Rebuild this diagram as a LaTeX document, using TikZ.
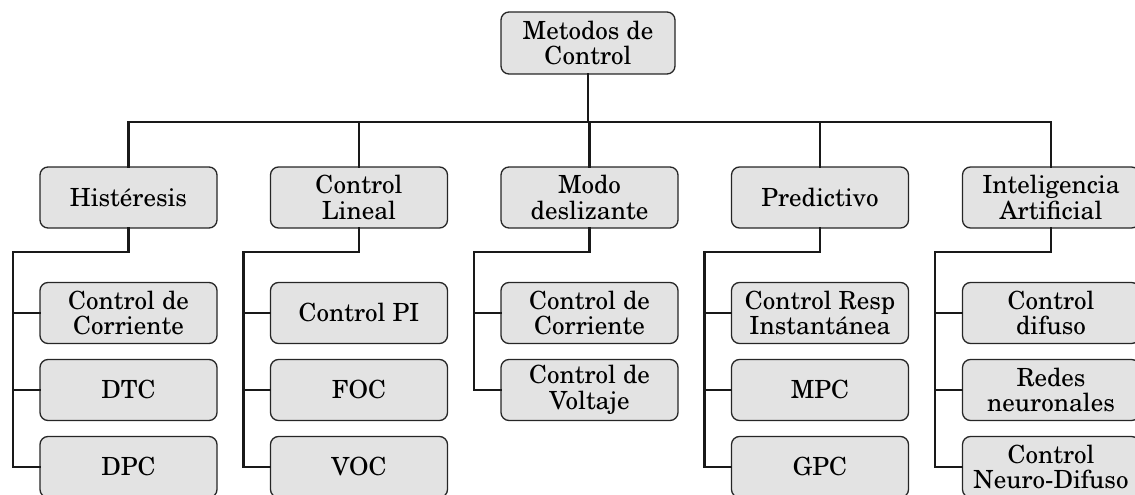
\documentclass[tikz,border=0pt]{standalone}
\usepackage[T1]{fontenc}
\usepackage{newcent}
\begin{document}
\begin{tikzpicture}[x=1pt,y=-1pt,
  box/.style={draw=black!85, line width=1.3pt, fill=black!11, rounded corners=8pt,
    minimum width=177pt, minimum height=61pt, inner sep=0pt, align=center,
    text=black, font=\fontsize{25}{25.5}\selectfont},
  conn/.style={draw=black!90, line width=2.9pt, line cap=rect}]
\useasboundingbox (0,0) rectangle (1135,495);
% root
\node[box, minimum width=174pt, minimum height=62pt] (root) at (588,43) {Metodos de\\Control};
% level 1
\node[box] (h) at (128.5,197.5) {Hist\'{e}resis};
\node[box] (l) at (359,197.5) {Control\\Lineal};
\node[box] (m) at (589.5,197.5) {Modo\\deslizante};
\node[box] (p) at (820,197.5) {Predictivo};
\node[box] (a) at (1051,197.5) {Inteligencia\\Artificial};
% children
\node[box] (h1) at (128.5,313) {Control de\\Corriente};
\node[box] (h2) at (128.5,390) {DTC};
\node[box] (h3) at (128.5,467) {DPC};
\node[box] (l1) at (359,313) {Control PI};
\node[box] (l2) at (359,390) {FOC};
\node[box] (l3) at (359,467) {VOC};
\node[box] (m1) at (589.5,313) {Control de\\Corriente};
\node[box] (m2) at (589.5,390) {Control de\\Voltaje};
\node[box] (p1) at (820,313) {Control Resp\\Instant\'{a}nea};
\node[box] (p2) at (820,390) {MPC};
\node[box] (p3) at (820,467) {GPC};
\node[box] (a1) at (1051,313) {Control\\difuso};
\node[box] (a2) at (1051,390) {Redes\\neuronales};
\node[box] (a3) at (1051,467) {Control\\Neuro-Difuso};
% bus
\coordinate (busL) at (128.5,122);
\coordinate (busR) at (1051,122);
\draw[conn] (busL) -- (busR);
\draw[conn] (root.south) -- (root.south |- busL);
\foreach \n in {h,l,m,p,a} \draw[conn] (\n.north) -- (\n.north |- busL);
% elbows
\coordinate (eh) at (13,252);
\coordinate (el) at (243.5,252);
\coordinate (em) at (474,252);
\coordinate (ep) at (704.5,252);
\coordinate (ea) at (935,252);
\draw[conn] (h.south) |- (eh) |- (h3.west);
\draw[conn] (h1.west -| eh) -- (h1.west);
\draw[conn] (h2.west -| eh) -- (h2.west);
\draw[conn] (l.south) |- (el) |- (l3.west);
\draw[conn] (l1.west -| el) -- (l1.west);
\draw[conn] (l2.west -| el) -- (l2.west);
\draw[conn] (m.south) |- (em) |- (m2.west);
\draw[conn] (m1.west -| em) -- (m1.west);
\draw[conn] (p.south) |- (ep) |- (p3.west);
\draw[conn] (p1.west -| ep) -- (p1.west);
\draw[conn] (p2.west -| ep) -- (p2.west);
\draw[conn] (a.south) |- (ea) |- (a3.west);
\draw[conn] (a1.west -| ea) -- (a1.west);
\draw[conn] (a2.west -| ea) -- (a2.west);
\end{tikzpicture}
\end{document}
